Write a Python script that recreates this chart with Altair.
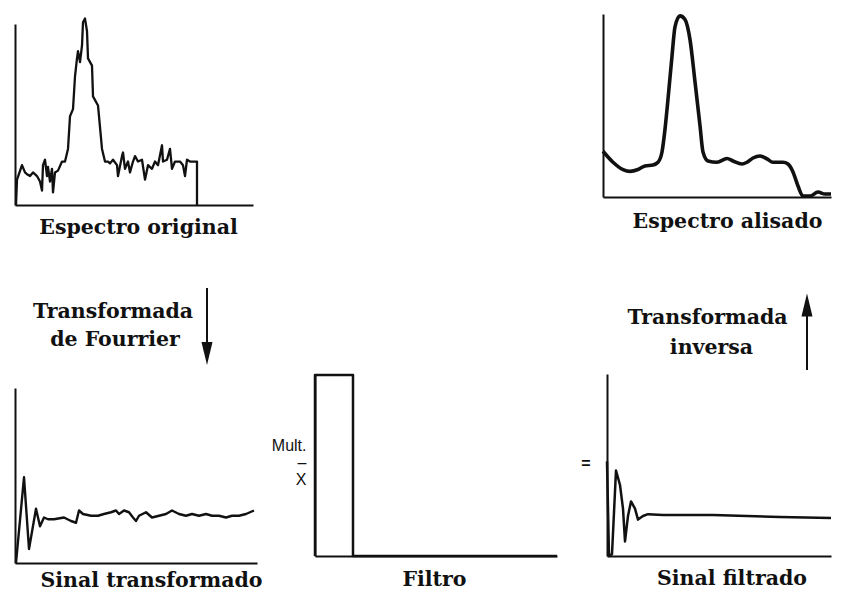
import altair as alt
import pandas as pd

# ---------------- data ----------------
# Espectro original (canal, intensidade)
orig_canal = [1, 2, 7, 10, 12, 15, 18, 22, 25, 27, 28, 30, 32, 33, 35, 37, 38, 40, 43, 47,
              50, 53, 55, 58, 60, 62, 63, 65, 67, 68, 70, 72, 73, 77, 78, 83, 87, 90, 93, 95,
              98, 102, 103, 107, 108, 110, 113, 115, 118, 120, 123, 127, 130, 133, 137, 140, 143, 147, 148, 152,
              155, 157, 160, 165, 168, 170, 172, 175, 182, 182]
orig_int = [0, 14, 22, 18, 17, 16, 18, 16, 13, 8, 22, 25, 16, 21, 13, 20, 7, 18, 19, 24,
            24, 31, 49, 53, 71, 81, 85, 79, 88, 101, 103, 96, 81, 77, 60, 55, 31, 24, 24, 23,
            25, 22, 16, 27, 29, 20, 24, 18, 24, 27, 24, 25, 14, 22, 20, 24, 22, 33, 24, 25,
            31, 20, 24, 24, 22, 16, 25, 24, 24, 0]

# Espectro alisado
alis_canal = [0, 10, 20, 27, 35, 42, 50, 55, 59, 62, 65, 69, 72, 77, 82, 87, 92, 97, 100, 105,
              114, 124, 130, 139, 144, 150, 157, 164, 170, 180, 185, 190, 195, 200, 207, 215, 222, 228]
alis_int = [25, 19, 15, 14, 15, 17, 17.5, 19, 24.6, 37, 53.5, 77, 93, 99, 97, 86, 63, 39, 24.6, 19.7,
            19, 21, 19.7, 18, 19, 21.3, 22.4, 20.8, 19, 19, 18, 13.7, 6, 0.5, 0.5, 2.7, 1.6, 1.6]

# Sinal transformado
tran_t = [1, 9, 14, 21, 25, 29, 33, 39, 49, 56, 61, 64, 68, 76, 83, 89, 96, 101, 104, 109,
          114, 118, 121, 124, 131, 137, 144, 151, 157, 164, 171, 177, 184, 191, 197, 204, 211, 217, 224, 231, 239]
tran_v = [0, 49, 8, 31, 21, 26, 25, 25, 26, 24, 23, 30, 28, 27, 27, 28, 29, 30, 28, 30,
          29, 26, 24, 27, 29, 26, 27, 28, 30, 28, 27, 28, 27, 28, 27, 27, 26, 27, 27, 28, 30]

# Filtro (janela retangular)
filtro_t = [0, 0, 38, 38, 242]
filtro_g = [0, 1, 1, 0, 0]

# Sinal filtrado
filt_t = [0, 2, 5, 9, 13, 16, 18, 21, 24, 28, 31, 36, 41, 56, 106, 173, 224]
filt_v = [52, 0, 1, 47, 39, 26, 8, 22, 30, 26, 20, 22, 23, 22.5, 22.5, 21.4, 20.9]

SERIF = "DejaVu Serif"
INK = "#111111"
FS = 20.5


def frame(xs, ys):
    return pd.DataFrame({"x": xs, "y": ys, "i": list(range(len(xs)))})


def xaxis(title, tx, ty):
    return alt.Axis(title=title, domain=True, domainColor=INK, domainWidth=2,
                    ticks=False, labels=False, grid=False,
                    titleFont=SERIF, titleFontSize=FS, titleFontWeight="bold",
                    titleColor=INK, titleX=tx, titleY=ty,
                    titleBaseline="middle", titleAlign="center")


def yaxis(**kw):
    return alt.Axis(domain=True, domainColor=INK, domainWidth=2,
                    ticks=False, labels=False, grid=False, **kw)


def panel(df, title, tx, ty, xdom, ydom, yrange, w, h, sw, interp="linear", ax=None):
    if ax is None:
        ax = yaxis(title=None)
    return alt.Chart(df).mark_line(color=INK, strokeWidth=sw, interpolate=interp,
                                   strokeJoin="round").encode(
        x=alt.X("x:Q", scale=alt.Scale(domain=xdom, nice=False, zero=False),
                axis=xaxis(title, tx, ty)),
        y=alt.Y("y:Q", scale=alt.Scale(domain=ydom, range=yrange, nice=False, zero=False),
                axis=ax),
        order="i:Q",
    ).properties(width=w, height=h)


p1 = panel(frame(orig_canal, orig_int), "Espectro original", 123, 22,
           [0, 238], [0, 100], [191, 10], 238, 191, 2.3)
p2 = panel(frame(alis_canal, alis_int), "Espectro alisado", 124, 24.5,
           [0, 228], [0, 100], [183, 0], 228, 183, 3.6, interp="monotone")
p3 = panel(frame(tran_t, tran_v), "Sinal transformado", 136, 17,
           [0, 242], [0, 100], [189, 14], 242, 189, 2.4)
p4 = panel(frame(filtro_t, filtro_g), "Filtro", 119, 23.5,
           [0, 242], [0, 1], [182, 1], 242, 182, 2.5,
           ax=yaxis(title=["Mult.", "–", "X"], titleAngle=0, titleAlign="right",
                    titleBaseline="middle", titleX=-9, titleY=71,
                    titleFont="Liberation Sans", titleFontSize=16,
                    titleFontWeight="normal", titleColor=INK, titleLineHeight=17))
p5 = panel(frame(filt_t, filt_v), "Sinal filtrado", 124.5, 22,
           [0, 224], [0, 100], [182, 0], 224, 182, 2.5,
           ax=yaxis(title="=", titleAngle=0, titleAlign="right", titleBaseline="middle",
                    titleX=-17, titleY=89, titleFont="Liberation Sans", titleFontSize=16,
                    titleFontWeight="bold", titleColor=INK))

# ---------------- middle annotations ----------------
one = pd.DataFrame({"k": [0]})


def label(txt, x, y):
    return alt.Chart(one).mark_text(font=SERIF, fontSize=FS, fontWeight="bold",
                                    color=INK, align="center", baseline="middle").encode(
        text=alt.value(txt), x=alt.value(x), y=alt.value(y))


def shaft(x, y1, y2):
    return alt.Chart(one).mark_rule(color=INK, strokeWidth=2).encode(
        x=alt.value(x), y=alt.value(y1), y2=alt.value(y2))


def head(x, y, down):
    path = "M-0.48,-1L0.48,-1L0,1Z" if down else "M-0.48,1L0.48,1L0,-1Z"
    return alt.Chart(one).mark_point(shape=path, filled=True, size=529, color=INK,
                                     opacity=1, strokeWidth=0).encode(
        x=alt.value(x), y=alt.value(y))


middle = alt.layer(
    label("Transformada", 98, 74),
    label("de Fourrier", 100, 102),
    shaft(192, 50, 110), head(192, 115.5, True),
    label("Transformada", 692.5, 80),
    label("inversa", 696.5, 110),
    shaft(792, 70, 132), head(792, 67, False),
).properties(width=800, height=135)

row_a = alt.hconcat(p1, p2, spacing=350, bounds="flush")
row_c = alt.hconcat(p3, alt.hconcat(p4, p5, spacing=50, bounds="flush"),
                    spacing=58, bounds="flush")

chart = alt.vconcat(row_a, middle, row_c, spacing=0).properties(
    padding={"left": 6, "top": 6, "right": 0, "bottom": 0},
    background="white",
).configure_view(stroke=None)

chart.save("out.html", embed_options={"renderer": "svg", "actions": False})
